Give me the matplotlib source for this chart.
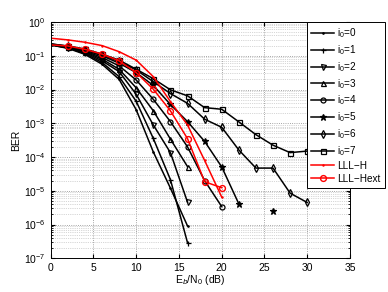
import numpy as np
import matplotlib
matplotlib.use("Agg")
import matplotlib.pyplot as plt
from matplotlib.ticker import LogLocator, NullFormatter

plt.rcParams['font.family'] = ['Liberation Sans', 'DejaVu Sans']
plt.rcParams['mathtext.fontset'] = 'custom'
plt.rcParams['mathtext.rm'] = 'Liberation Sans'

# Eb/N0 grid (dB)
snr = [0, 2, 4, 6, 8, 10, 12, 14, 16, 18, 20, 22, 24, 26, 28, 30]

# BER per i0
ber_i0_0 = [0.209, 0.166, 0.110, 0.0562, 0.0200, 2.51e-3, 1.41e-4, 1.2e-5, 9.1e-7]
ber_i0_1 = [0.209, 0.170, 0.1175, 0.0631, 0.0240, 4.47e-3, 3.55e-4, 2.14e-5, 2.9e-7]
ber_i0_2 = [0.214, 0.174, 0.126, 0.0708, 0.0339, 7.2e-3, 8.9e-4, 1.35e-4, 4.6e-6]
ber_i0_3 = [0.214, 0.178, 0.132, 0.0794, 0.0398, 0.0112, 2.34e-3, 3.4e-4, 5.2e-5]
ber_i0_4 = [0.219, 0.182, 0.138, 0.0891, 0.0501, 0.0191, 5.1e-3, 1.12e-3, 2.0e-4, 2.0e-5, 3.4e-6]
ber_i0_5 = [0.219, 0.186, 0.145, 0.100, 0.0603, 0.0316, 0.0132, 3.6e-3, 1.12e-3, 2.9e-4, 5.1e-5,
            4.1e-6, np.nan, 2.5e-6]
ber_i0_6 = [0.224, 0.191, 0.151, 0.107, 0.0676, 0.038, 0.017, 7.6e-3, 3.9e-3, 1.32e-3, 7.6e-4,
            1.62e-4, 4.7e-5, 4.7e-5, 8.5e-6, 4.5e-6]
ber_i0_7 = [0.224, 0.195, 0.158, 0.112, 0.0741, 0.0398, 0.0209, 9.8e-3, 6.5e-3, 2.9e-3, 2.6e-3,
            1.1e-3, 4.6e-4, 2.24e-4, 1.35e-4, 1.5e-4]
ber_lll_h = [0.331, 0.295, 0.251, 0.200, 0.132, 0.0741, 0.024, 4.4e-3, 8.9e-4, 7.9e-5, 6.5e-6]
ber_lll_hext = [0.210, 0.195, 0.155, 0.112, 0.0708, 0.0316, 0.0102, 2.34e-3, 3.5e-4, 1.86e-5, 1.23e-5]

black_curves = [ber_i0_0, ber_i0_1, ber_i0_2, ber_i0_3, ber_i0_4, ber_i0_5, ber_i0_6, ber_i0_7]
markers = ['.', '+', 'v', '^', 'o', '*', 'd', 's']

fig = plt.figure(figsize=(3.88, 2.92), dpi=100)
ax = fig.add_axes([0.1307, 0.1154, 0.7713, 0.8093])

for i, (ber, m) in enumerate(zip(black_curves, markers)):
    filled = m in ('.', '*')
    ax.semilogy(snr[:len(ber)], ber, color='black', lw=1.1, marker=m,
                ms={'.': 2, '*': 5}.get(m, 3.6), mew=0.9,
                mfc='black' if filled else 'none', markevery=slice(1, None),
                label='i$_0$=%d' % i)

ax.semilogy(snr[:len(ber_lll_h)], ber_lll_h, color='red', lw=1.1, marker='.', ms=1.5,
            markevery=slice(1, None), label='LLL\u2212H')
ax.semilogy(snr[:len(ber_lll_hext)], ber_lll_hext, color='red', lw=1.1, marker='o', ms=4.2,
            mew=1.0, mfc='none', markevery=slice(1, None), label='LLL\u2212Hext')

ax.set_xlim(0, 35)
ax.set_ylim(1e-7, 1)
ax.set_xticks(range(0, 36, 5))
ax.yaxis.set_major_locator(LogLocator(base=10, numticks=10))
ax.yaxis.set_minor_locator(LogLocator(base=10, subs=np.arange(2, 10), numticks=20))
ax.yaxis.set_minor_formatter(NullFormatter())
ax.grid(True, which='major', ls=':', color='#888888', lw=0.6)
ax.grid(True, which='minor', axis='y', ls=':', color='#b0b0b0', lw=0.5)
ax.tick_params(direction='in', which='both', top=True, right=True, labelsize=7.5, length=3)
ax.tick_params(which='minor', length=1.5)
for s in ax.spines.values():
    s.set_linewidth(0.7)

ax.set_xlabel('E$_b$/N$_0$ (dB)', fontsize=7.5, labelpad=0)
ax.set_ylabel('BER', fontsize=7.5, labelpad=2)

leg = ax.legend(loc='upper left', bbox_to_anchor=(0.856, 1.0), fontsize=7.2, frameon=True,
                fancybox=False, edgecolor='black', framealpha=1, handlelength=2.3,
                labelspacing=0.3, borderpad=0.45, handletextpad=0.3, borderaxespad=0)
leg.get_frame().set_linewidth(0.7)

fig.savefig('out.png', dpi=100)
